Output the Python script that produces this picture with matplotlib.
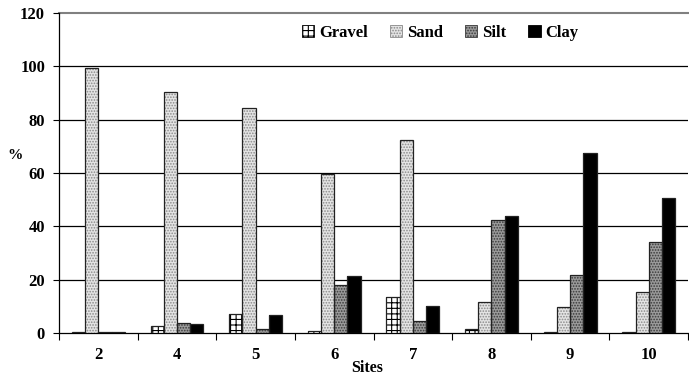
import matplotlib

matplotlib.use("Agg")

import matplotlib.pyplot as plt
import numpy as np
from matplotlib.patches import Patch

sites = ["2", "4", "5", "6", "7", "8", "9", "10"]
gravel = [0.2, 2.6, 7.1, 0.8, 13.5, 1.6, 0.3, 0.3]
sand = [99.5, 90.2, 84.4, 59.6, 72.3, 11.6, 9.8, 15.2]
silt = [0.2, 3.9, 1.5, 18.0, 4.6, 42.4, 21.9, 34.1]
clay = [0.5, 3.3, 6.8, 21.3, 10.2, 43.9, 67.6, 50.6]

series = [
    ("Gravel", gravel, "white", "+++", "black"),
    ("Sand", sand, "#e4e4e4", "......", "#8a8a8a"),
    ("Silt", silt, "#9a9a9a", "......", "#3a3a3a"),
    ("Clay", clay, "black", "", "black"),
]

plt.rcParams["font.family"] = ["Liberation Serif", "DejaVu Serif"]
plt.rcParams["font.weight"] = "bold"
plt.rcParams["hatch.linewidth"] = 0.8

fig = plt.figure(figsize=(6.89, 3.76), dpi=100)
ax = fig.add_axes([0.0856, 0.1144, 0.913, 0.851])

x = np.arange(len(sites))
width = 0.168
handles = []
for i, (name, vals, face, hatch, hcol) in enumerate(series):
    pos = x + (i - 1.5) * width
    ax.bar(pos, vals, width, color=face, hatch=hatch, edgecolor=hcol,
           linewidth=0.0, zorder=3)
    ax.bar(pos, vals, width, fill=False, edgecolor="#222222", linewidth=0.9, zorder=4)
    handles.append(Patch(facecolor=face, hatch=hatch, edgecolor=hcol, linewidth=0.6, label=name))

ax.set_xlim(-0.5, len(sites) - 0.5)
ax.set_ylim(0, 120)
ax.set_yticks(range(0, 121, 20))
ax.set_xticks(x)
ax.set_xticklabels(sites)
ax.set_xticks(np.arange(len(sites) + 1) - 0.5, minor=True)
ax.tick_params(axis="x", which="major", length=0, pad=10, labelsize=12)
ax.tick_params(axis="x", which="minor", length=5, width=0.8, direction="out")
ax.tick_params(axis="y", length=4, width=0.8, labelsize=12, pad=6)

for y in range(20, 101, 20):
    ax.axhline(y, color="black", linewidth=0.9, zorder=1)
ax.axhline(120, color="#808080", linewidth=1.5, zorder=1, clip_on=False)

for side in ("top", "right"):
    ax.spines[side].set_visible(False)
ax.spines["left"].set_linewidth(0.9)
ax.spines["bottom"].set_linewidth(0.9)

ax.set_xlabel("Sites", fontsize=11.5, fontweight="bold", va="center")
ax.set_ylabel("%", fontsize=11, fontweight="bold", rotation=0, va="center")
ax.yaxis.set_label_coords(-0.07, 0.556)
ax.xaxis.set_label_coords(0.49, -0.11)

ax.legend(handles=handles, loc="upper center", bbox_to_anchor=(0.606, 1.01),
          ncol=4, frameon=False, fontsize=12, handlelength=0.75, handleheight=0.75,
          columnspacing=1.3, handletextpad=0.3)

fig.savefig("out.png", dpi=100, facecolor="white")
